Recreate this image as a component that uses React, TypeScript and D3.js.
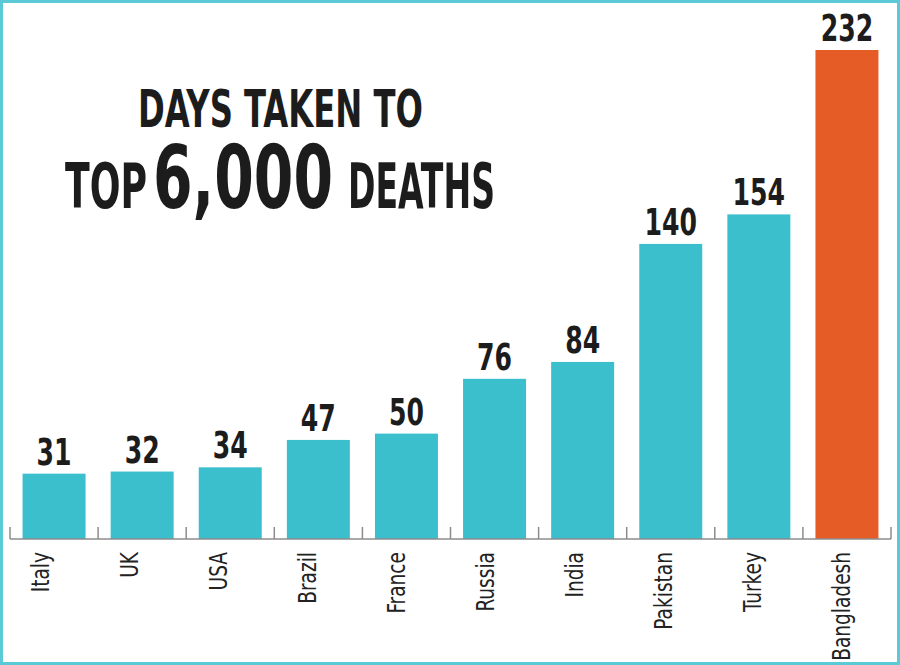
import React, { useLayoutEffect, useRef, useState } from "react";
import * as d3 from "d3";

const categories = ["Italy", "UK", "USA", "Brazil", "France", "Russia", "India", "Pakistan", "Turkey", "Bangladesh"];
const days = [31, 32, 34, 47, 50, 76, 84, 140, 154, 232];
const highlight = "Bangladesh";
const titleLine1 = "DAYS TAKEN TO";
const titleLine2 = ["TOP", "6,000", "DEATHS"];

const W = 900;
const H = 665;
const FONT = "'Liberation Sans Narrow', 'DejaVu Sans Condensed', 'Roboto Condensed', sans-serif";

function FitText(props: { x: number; y: number; width: number; fontSize: number; bold?: boolean; anchor?: string; children: string; fill?: string }) {
  const ref = useRef<SVGTextElement>(null);
  const [sx, setSx] = useState(1);
  useLayoutEffect(() => {
    if (ref.current) {
      const len = ref.current.getComputedTextLength();
      if (len > 0) setSx(props.width / len);
    }
  }, [props.width, props.children, props.fontSize]);
  return (
    <text
      ref={ref}
      transform={`translate(${props.x},${props.y}) scale(${sx},1)`}
      textAnchor={props.anchor || "start"}
      fontFamily={FONT}
      fontWeight={props.bold ? "bold" : "normal"}
      fontSize={props.fontSize}
      fill={props.fill || "#1c1c1c"}
    >
      {props.children}
    </text>
  );
}

export default function App() {
  const baseY = 539;
  const x = d3.scaleBand<string>().domain(categories).range([10, 891]).paddingInner(0.285).paddingOuter(0.1425);
  const xLab = d3.scalePoint<string>().domain(categories).range([41, 842]);
  const y = d3.scaleLinear().domain([0, 232]).range([baseY, 50]);
  const ticks = categories.map((c) => (x(c) as number) - (x.step() - x.bandwidth()) / 2);
  ticks.push(891);

  return (
    <svg width={W} height={H} style={{ position: "absolute", left: 0, top: 0, display: "block", background: "#fff" }}>
      <rect x={1.5} y={1.5} width={W - 3} height={H - 3} fill="#fff" stroke="#5ccad6" strokeWidth={3} />
      {/* title */}
      <FitText x={138} y={127} width={285} fontSize={52} bold>{titleLine1}</FitText>
      <FitText x={65} y={208} width={82} fontSize={63} bold>{titleLine2[0]}</FitText>
      <FitText x={153} y={208} width={180} fontSize={88} bold>{titleLine2[1]}</FitText>
      <FitText x={348} y={208} width={147} fontSize={63} bold>{titleLine2[2]}</FitText>
      {/* bars */}
      {categories.map((c, i) => (
        <rect
          key={c}
          x={x(c)}
          y={y(days[i])}
          width={x.bandwidth()}
          height={baseY - y(days[i])}
          fill={c === highlight ? "#e65c26" : "#3bbfcd"}
        />
      ))}
      {/* value labels */}
      {categories.map((c, i) => (
        <FitText
          key={c}
          x={(x(c) as number) + x.bandwidth() / 2}
          y={y(days[i]) - 9}
          anchor="middle"
          width={String(days[i]).length * 17.5}
          fontSize={37}
          bold
        >
          {String(days[i])}
        </FitText>
      ))}
      {/* axis */}
      <line x1={10} x2={891} y1={baseY} y2={baseY} stroke="#8c8c8c" strokeWidth={1.5} />
      {ticks.map((t, i) => (
        <line key={i} x1={t} x2={t} y1={baseY} y2={baseY - 12} stroke="#8c8c8c" strokeWidth={1.5} />
      ))}
      {categories.map((c) => (
        <text
          key={c}
          transform={`translate(${xLab(c)},552) rotate(-90) scale(0.86,1)`}
          textAnchor="end"
          dy="0.35em"
          fontFamily={FONT}
          fontSize={24}
          fill="#222"
        >
          {c}
        </text>
      ))}
    </svg>
  );
}
